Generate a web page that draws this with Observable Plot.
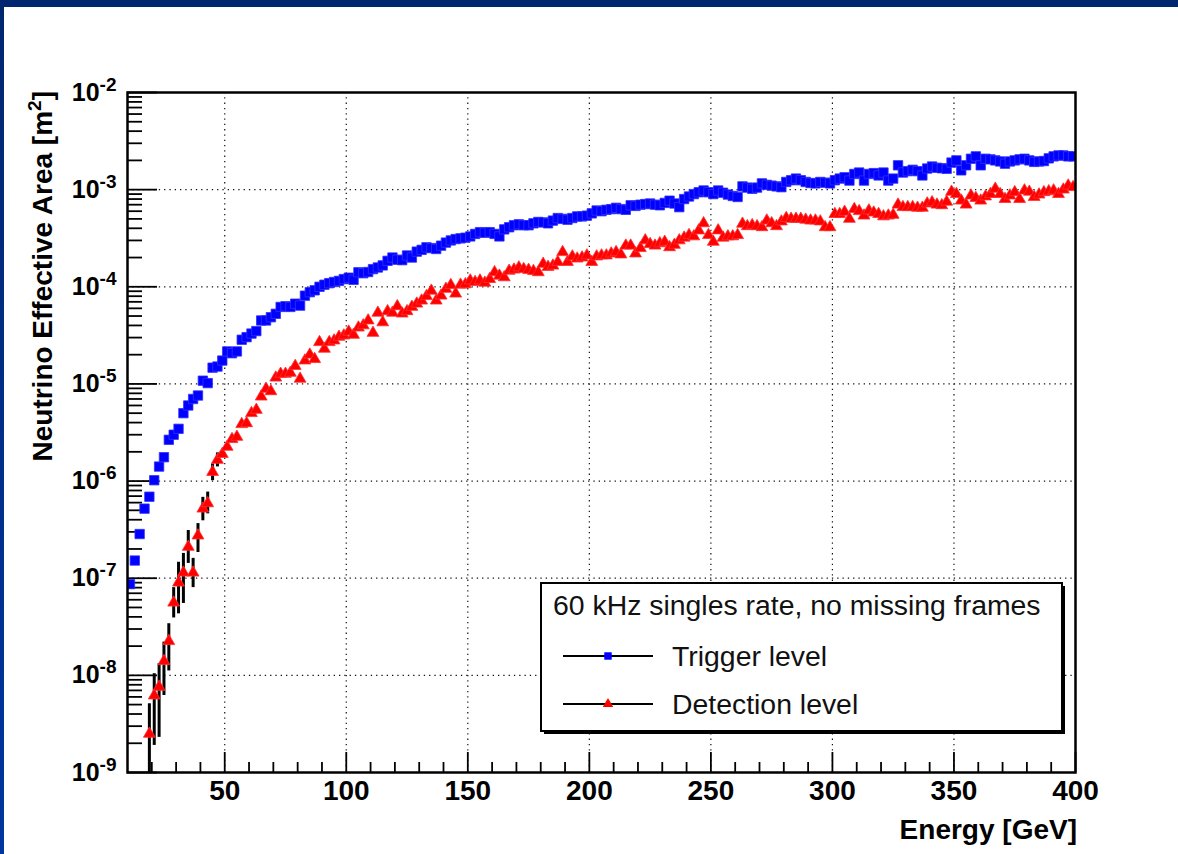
<!DOCTYPE html>
<html>
<head>
<meta charset="utf-8">
<script src="https://cdn.jsdelivr.net/npm/d3@7"></script>
<script src="https://cdn.jsdelivr.net/npm/@observablehq/plot@0.6"></script>
<style>
  html, body { margin: 0; padding: 0; width: 1178px; height: 854px; overflow: hidden; }
  body { background: linear-gradient(#00266f, #0036a0); position: relative; }
  #panel { position: absolute; left: 4px; top: 7px; right: 0; bottom: 0; background: #ffffff; }
  #chart { position: absolute; left: 0; top: 0; }
  #chart svg { background: transparent; }
</style>
</head>
<body>
<div id="panel"></div>
<div id="chart"></div>
<script>
// Histogram binning: 2 GeV bins starting at 10 GeV (bin centres)
const binStart = 10;
const binWidth = 2;

// Trigger level (blue squares), one value per bin, 11 ... 399 GeV
const triggerArea = [
  8.7e-8,1.52e-7,2.85e-7,5.2e-7,6.9e-7,1.02e-6,1.41e-6,1.76e-6,2.66e-6,3.0e-6,
  3.45e-6,5.0e-6,6.0e-6,7.0e-6,7.6e-6,1.08e-5,1.02e-5,1.47e-5,1.51e-5,1.74e-5,
  2.16e-5,2.07e-5,2.16e-5,2.85e-5,3.03e-5,3.3e-5,3.5e-5,4.5e-5,4.5e-5,4.86e-5,
  5.27e-5,6.2e-5,6.3e-5,6.2e-5,6.7e-5,6.4e-5,8.1e-5,8.8e-5,9.2e-5,1.0e-4,
  1.05e-4,1.09e-4,1.12e-4,1.15e-4,1.2e-4,1.24e-4,1.18e-4,1.41e-4,1.38e-4,1.42e-4,
  1.52e-4,1.58e-4,1.66e-4,1.85e-4,2.0e-4,1.9e-4,1.88e-4,2.1e-4,2.0e-4,2.3e-4,
  2.4e-4,2.55e-4,2.5e-4,2.45e-4,2.65e-4,2.85e-4,3.0e-4,3.1e-4,3.15e-4,3.2e-4,
  3.3e-4,3.5e-4,3.65e-4,3.6e-4,3.65e-4,3.5e-4,3.3e-4,3.9e-4,4.1e-4,4.3e-4,
  4.4e-4,4.3e-4,4.3e-4,4.5e-4,4.65e-4,4.6e-4,4.5e-4,4.8e-4,5.1e-4,5.0e-4,
  4.9e-4,5.1e-4,5.3e-4,5.3e-4,5.4e-4,5.7e-4,6.1e-4,6.0e-4,6.2e-4,6.3e-4,
  6.5e-4,6.3e-4,6.2e-4,6.9e-4,6.8e-4,7.0e-4,7.1e-4,7.2e-4,7.0e-4,6.9e-4,
  7.3e-4,7.7e-4,7.2e-4,6.6e-4,8.0e-4,8.5e-4,9.0e-4,9.4e-4,9.8e-4,9.4e-4,
  9.0e-4,9.8e-4,9.3e-4,8.9e-4,8.6e-4,8.4e-4,1.08e-3,1.05e-3,1.02e-3,1.05e-3,
  1.16e-3,1.12e-3,1.1e-3,1.08e-3,1.06e-3,1.2e-3,1.25e-3,1.3e-3,1.25e-3,1.2e-3,
  1.17e-3,1.16e-3,1.2e-3,1.18e-3,1.16e-3,1.25e-3,1.3e-3,1.34e-3,1.24e-3,1.45e-3,
  1.5e-3,1.24e-3,1.45e-3,1.48e-3,1.4e-3,1.5e-3,1.24e-3,1.3e-3,1.78e-3,1.5e-3,
  1.55e-3,1.6e-3,1.55e-3,1.4e-3,1.65e-3,1.73e-3,1.68e-3,1.66e-3,1.64e-3,1.9e-3,
  2.0e-3,1.58e-3,1.78e-3,2.08e-3,2.2e-3,1.78e-3,2.08e-3,2.05e-3,2.0e-3,1.95e-3,
  1.85e-3,1.95e-3,2.0e-3,2.05e-3,2.08e-3,2.0e-3,1.93e-3,1.95e-3,1.97e-3,2.1e-3,
  2.2e-3,2.25e-3,2.25e-3,2.2e-3,2.2e-3
];

// Detection level (red triangles), one value per bin, 11 ... 399 GeV
const detectionArea = [
  null,null,null,null,2.5e-9,6.2e-9,7.6e-9,1.4e-8,2.25e-8,5.6e-8,
  9.0e-8,1.14e-7,2.1e-7,1.14e-7,2.75e-7,5.2e-7,5.9e-7,1.24e-6,1.65e-6,1.9e-6,
  2.25e-6,2.7e-6,2.85e-6,3.85e-6,3.94e-6,5.0e-6,5.4e-6,7.4e-6,8.9e-6,8.4e-6,
  1.16e-5,1.27e-5,1.27e-5,1.3e-5,1.53e-5,1.13e-5,1.74e-5,2.0e-5,1.8e-5,2.69e-5,
  2.3e-5,2.69e-5,2.8e-5,3.05e-5,3.15e-5,3.45e-5,3.2e-5,3.8e-5,4.0e-5,4.5e-5,
  3.35e-5,5.4e-5,4.3e-5,5.6e-5,5.4e-5,6.3e-5,5.3e-5,5.6e-5,6.2e-5,6.7e-5,
  7.2e-5,8.0e-5,9.1e-5,7.2e-5,8.1e-5,9.5e-5,1.04e-4,8.5e-5,1.05e-4,1.06e-4,
  1.16e-4,1.12e-4,1.16e-4,1.1e-4,1.2e-4,1.41e-4,1.3e-4,1.25e-4,1.46e-4,1.5e-4,
  1.58e-4,1.52e-4,1.49e-4,1.45e-4,1.41e-4,1.72e-4,1.6e-4,1.65e-4,1.8e-4,2.27e-4,
  1.8e-4,2.05e-4,1.95e-4,2.0e-4,2.1e-4,1.8e-4,2.05e-4,2.1e-4,2.1e-4,2.2e-4,
  2.27e-4,2.15e-4,2.65e-4,2.65e-4,2.2e-4,2.5e-4,3.0e-4,2.75e-4,2.65e-4,2.8e-4,
  2.9e-4,2.55e-4,2.7e-4,3.0e-4,3.2e-4,3.4e-4,3.3e-4,3.8e-4,4.5e-4,3.4e-4,
  2.9e-4,3.8e-4,3.2e-4,3.3e-4,3.3e-4,3.4e-4,4.45e-4,4.2e-4,4.3e-4,4.2e-4,
  4.1e-4,4.8e-4,4.5e-4,4.2e-4,4.7e-4,5.1e-4,5.0e-4,5.0e-4,5.0e-4,4.9e-4,
  4.8e-4,4.8e-4,4.7e-4,4.1e-4,4.1e-4,5.6e-4,5.6e-4,5.9e-4,5.0e-4,6.3e-4,
  6.0e-4,5.4e-4,6.1e-4,5.8e-4,5.6e-4,5.3e-4,5.4e-4,5.5e-4,7.0e-4,6.6e-4,
  6.6e-4,6.6e-4,6.5e-4,6.5e-4,7.2e-4,7.4e-4,7.0e-4,6.9e-4,7.5e-4,9.5e-4,
  9.0e-4,7.7e-4,7.0e-4,8.7e-4,8.2e-4,7.7e-4,8.5e-4,9.0e-4,1.02e-3,9.0e-4,
  8.0e-4,8.7e-4,9.4e-4,8.0e-4,9.8e-4,9.5e-4,8.4e-4,8.9e-4,9.4e-4,9.6e-4,
  9.8e-4,9.0e-4,1.0e-3,1.1e-3,1.06e-3
];

// Error bars on the detection level at low energy
const errEnergy = [19,21,23,25,27,29,31,33,35,37,39,41,43,45,47];
const errLow    = [5e-10,1.9e-9,2.3e-9,6.2e-9,1.11e-8,3.9e-8,4.3e-8,5.5e-8,1.42e-7,8.0e-8,1.84e-7,3.9e-7,4.6e-7,1.01e-6,1.4e-6];
const errHigh   = [5.1e-9,1.04e-8,1.32e-8,2.2e-8,3.4e-8,8.0e-8,1.46e-7,1.8e-7,3.1e-7,1.6e-7,3.65e-7,6.8e-7,7.7e-7,1.5e-6,1.95e-6];

// Axes
const xTicksMajor = [50,100,150,200,250,300,350,400];
const xTicksMinor = [20,30,40,60,70,80,90,110,120,130,140,160,170,180,190,210,220,230,240,260,270,280,290,310,320,330,340,360,370,380,390];
const xGrid = [50,100,150,200,250,300,350];
const yDecades = [1e-9,1e-8,1e-7,1e-6,1e-5,1e-4,1e-3,1e-2];
const yGrid = [1e-8,1e-7,1e-6,1e-5,1e-4,1e-3];
const yMinorMantissa = [2,3,4,5,6,7,8,9];

const xTitle = "Energy [GeV]";
const yTitle = "Neutrino Effective Area [m";
const legendHeader = "60 kHz singles rate, no missing frames";
const seriesNames = ["Trigger level", "Detection level"];

// Build tables
const trig = triggerArea.map((v, i) => ({e: binStart + binWidth * i + binWidth / 2, v}));
const det = detectionArea.map((v, i) => ({e: binStart + binWidth * i + binWidth / 2, v})).filter(d => d.v != null);
const errs = errEnergy.map((e, i) => ({e, lo: errLow[i], hi: errHigh[i]}));
const yMinor = [];
for (const d of yDecades.slice(0, -1)) for (const m of yMinorMantissa) yMinor.push(m * d);

const W = 1178, H = 854;
const mL = 127, mR = 103, mT = 92, mB = 82;
const plotW = W - mL - mR, plotH = H - mT - mB;
const font = "'Liberation Sans', Arial, Helvetica, sans-serif";
const sqR = 5.3, triR = 4.4;

const chart = Plot.plot({
  width: W,
  height: H,
  marginLeft: mL,
  marginRight: mR,
  marginTop: mT,
  marginBottom: mB,
  style: {fontFamily: font, fontSize: "28px", fontWeight: "bold", color: "black", background: "transparent", overflow: "visible"},
  x: {domain: [10, 400], ticks: xTicksMajor, tickSize: 0, tickPadding: 8, label: null, tickFormat: d => String(d)},
  y: {type: "log", domain: [1e-9, 1e-2], ticks: yDecades, tickSize: 0, tickPadding: 11, label: null,
      tickFormat: d => "10^" + Math.round(Math.log10(d))},
  marks: [
    Plot.ruleX(xGrid, {stroke: "#111", strokeWidth: 1.2, strokeDasharray: "1.3,4"}),
    Plot.ruleY(yGrid, {stroke: "#111", strokeWidth: 1.2, strokeDasharray: "1.3,4"}),
    Plot.tickX(xTicksMinor, {x: d => d, stroke: "black", strokeWidth: 1.8, insetTop: plotH - 10}),
    Plot.tickX(xTicksMajor, {x: d => d, stroke: "black", strokeWidth: 1.8, insetTop: plotH - 20}),
    Plot.tickY(yMinor, {y: d => d, stroke: "black", strokeWidth: 1.8, insetRight: plotW - 15}),
    Plot.tickY(yDecades, {y: d => d, stroke: "black", strokeWidth: 1.8, insetRight: plotW - 30}),
    Plot.ruleX(errs, {x: "e", y1: "lo", y2: "hi", stroke: "black", strokeWidth: 3, clip: true}),
    Plot.dot(trig, {x: "e", y: "v", symbol: "square", r: sqR, fill: "#0000ff", stroke: "#3030ff", strokeWidth: 0.8, clip: true}),
    Plot.dot(det, {x: "e", y: "v", symbol: "triangle", r: triR, fill: "#ff0000", stroke: "#ff3030", strokeWidth: 0.8, clip: true}),
    Plot.frame({stroke: "black", strokeWidth: 2.5})
  ]
});

document.getElementById("chart").appendChild(chart);

// Superscripts on the y tick labels: "10^-3" -> 10 with raised -3
chart.querySelectorAll("text").forEach(t => {
  const m = t.textContent.match(/^10\^(-?\d+)$/);
  if (!m) return;
  t.textContent = "10";
  t.setAttribute("font-size", "25px");
  const sup = document.createElementNS("http://www.w3.org/2000/svg", "tspan");
  sup.setAttribute("dy", "-10");
  sup.setAttribute("font-size", "19px");
  sup.textContent = m[1];
  t.appendChild(sup);
});

const svg = d3.select(chart);

// Axis titles
const yt = svg.append("text")
  .attr("transform", `translate(52, ${mT - 1}) rotate(-90)`)
  .attr("text-anchor", "end")
  .attr("font-family", font).attr("font-weight", "bold").attr("font-size", 28)
  .attr("fill", "black");
yt.append("tspan").text(yTitle);
yt.append("tspan").attr("dy", -11).attr("font-size", 19).text("2");
yt.append("tspan").attr("dy", 11).text("]");

svg.append("text")
  .attr("x", W - mR + 2).attr("y", 839)
  .attr("text-anchor", "end")
  .attr("font-family", font).attr("font-weight", "bold").attr("font-size", 28)
  .attr("fill", "black")
  .text(xTitle);

// Legend
const lg = svg.append("g").attr("font-family", font).attr("font-weight", "normal").attr("font-size", 28.4).attr("text-anchor", "start");
const lx = 541, ly = 583, lw = 521, lh = 148;
lg.append("rect").attr("x", lx + 3).attr("y", ly + 3).attr("width", lw).attr("height", lh).attr("fill", "black");
lg.append("rect").attr("x", lx).attr("y", ly).attr("width", lw).attr("height", lh).attr("fill", "white").attr("stroke", "black").attr("stroke-width", 2);
lg.append("text").attr("x", 553).attr("y", 615).attr("fill", "#111").text(legendHeader);
const rows = [
  {name: seriesNames[0], y: 656, color: "#0000ff", sym: d3.symbolSquare, r: 4.2},
  {name: seriesNames[1], y: 704, color: "#ff0000", sym: d3.symbolTriangle, r: 3.9}
];
for (const row of rows) {
  lg.append("line").attr("x1", 563).attr("x2", 653).attr("y1", row.y).attr("y2", row.y).attr("stroke", "black").attr("stroke-width", 2);
  lg.append("path").attr("transform", `translate(608, ${row.y})`).attr("d", d3.symbol(row.sym, Math.PI * row.r * row.r)()).attr("fill", row.color);
  lg.append("text").attr("x", 672).attr("y", row.y + 10).attr("fill", "#111").text(row.name);
}
</script>
</body>
</html>
